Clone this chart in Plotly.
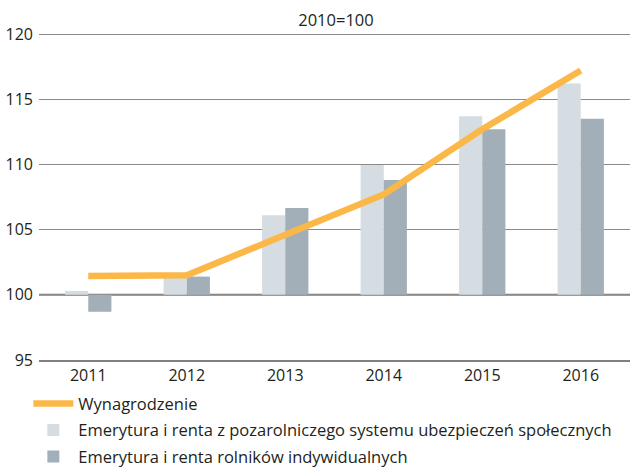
import plotly.graph_objects as go

years = ["2011", "2012", "2013", "2014", "2015", "2016"]
wynagrodzenie = [101.45, 101.5, 104.6, 107.7, 112.7, 117.2]
emerytura_pozarolnicza = [100.3, 101.5, 106.1, 109.95, 113.7, 116.2]
emerytura_rolnikow = [98.7, 101.4, 106.65, 108.8, 112.7, 113.5]
base_value = 100
y_ticks = [95, 100, 105, 110, 115, 120]

font_family = "Open Sans, Noto Sans, sans-serif"
text_color = "#231f20"

fig = go.Figure()
fig.add_trace(go.Bar(
    x=years, y=[v - base_value for v in emerytura_pozarolnicza], base=base_value,
    name="Emerytura i renta z pozarolniczego systemu ubezpieczeń społecznych",
    marker=dict(color="#D5DCE2", line=dict(width=0)),
    legendrank=2, legendgroup="b",
))
fig.add_trace(go.Bar(
    x=years, y=[v - base_value for v in emerytura_rolnikow], base=base_value,
    name="Emerytura i renta rolników indywidualnych",
    marker=dict(color="#A2AFB9", line=dict(width=0)),
    legendrank=3, legendgroup="c",
))
fig.add_trace(go.Scatter(
    x=years, y=wynagrodzenie, mode="lines", name="Wynagrodzenie",
    line=dict(color="#FBB747", width=6.5),
    legendrank=1, legendgroup="a",
))

fig.add_hline(y=base_value, line=dict(color="#7a7a7a", width=2), layer="below")

fig.update_layout(
    width=630, height=468,
    margin=dict(l=39, r=0, t=33, b=108, autoexpand=False),
    paper_bgcolor="white", plot_bgcolor="white",
    font=dict(family=font_family, size=16, color=text_color),
    barmode="group", bargap=0.53, bargroupgap=0,
    title=dict(text="2010=100", x=336 / 630, xanchor="center", y=1 - 20 / 468, yanchor="middle",
               font=dict(size=16.5, family=font_family, color=text_color)),
    showlegend=True,
    legend=dict(
        orientation="v", x=0.045, xref="container", xanchor="left",
        y=0.1745, yref="container", yanchor="top",
        font=dict(size=16.5, family=font_family, color=text_color),
        itemwidth=40, tracegroupgap=2, bgcolor="rgba(0,0,0,0)",
        traceorder="grouped",
    ),
    xaxis=dict(showgrid=False, showline=True, linecolor="#808080", linewidth=2,
               ticks="", tickfont=dict(size=16), fixedrange=True, tickangle=0),
    yaxis=dict(range=[95, 120.08], tickvals=y_ticks, showgrid=True,
               gridcolor="#8a8a8a", gridwidth=1, zeroline=False, showline=False,
               ticks="", ticklabelstandoff=5, tickfont=dict(size=16)),
)

fig.write_html(
    "out.html",
    config={"displayModeBar": False},
    post_script="document.body.style.margin='0';document.body.style.overflow='hidden';",
)
